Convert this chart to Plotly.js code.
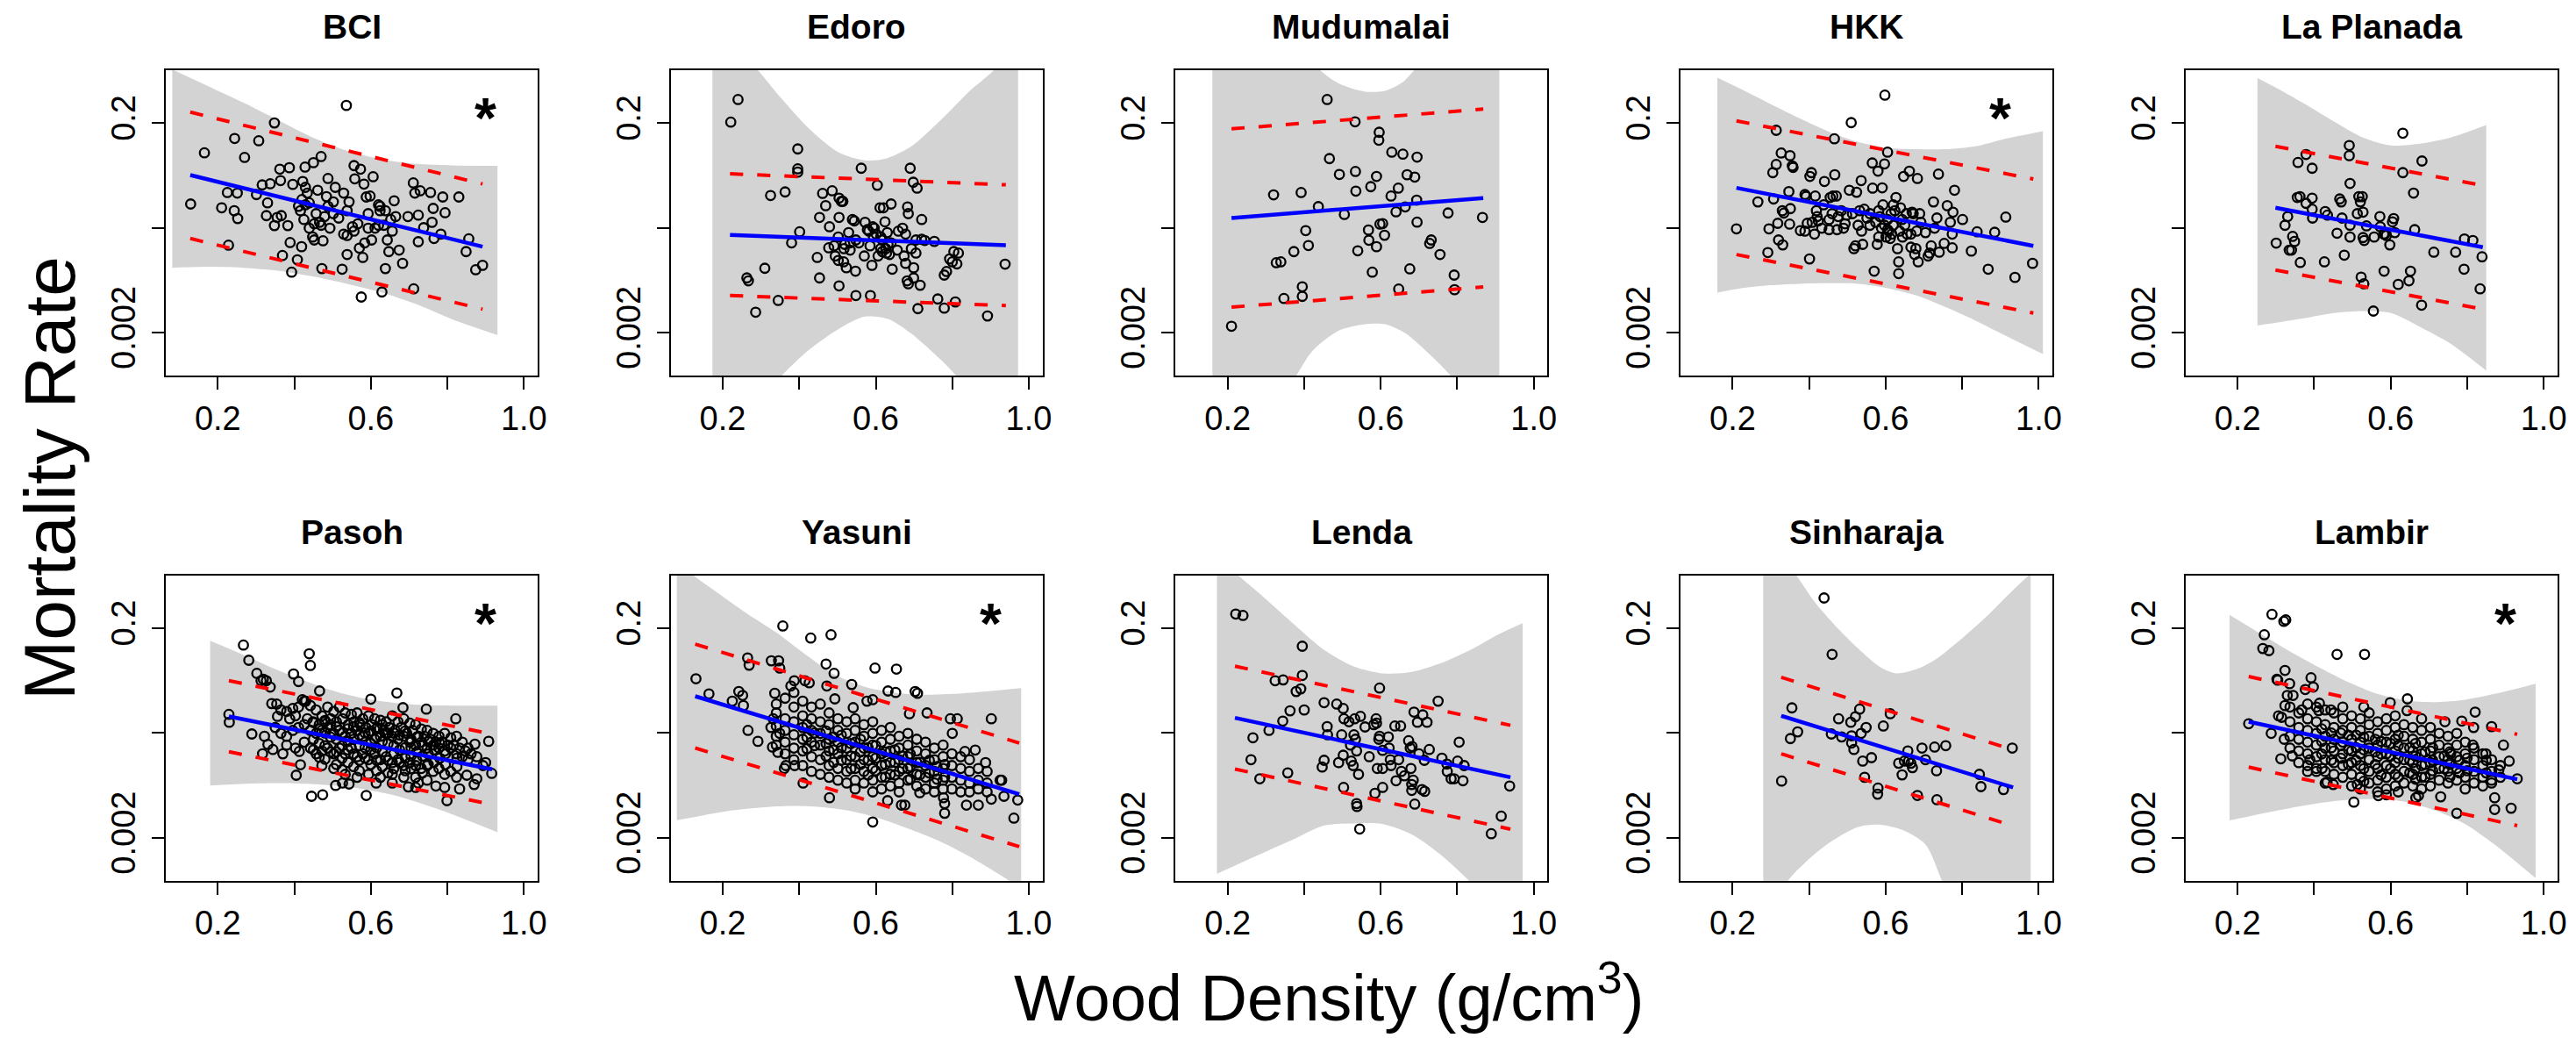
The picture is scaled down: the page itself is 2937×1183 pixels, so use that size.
<!DOCTYPE html>
<html><head><meta charset="utf-8">
<script src="https://cdn.plot.ly/plotly-3.0.1.min.js"></script>
<style>html,body{margin:0;padding:0;background:#fff}#chart{width:2937px;height:1183px}</style>
</head><body><div id="chart"></div>
<script>
// ---------- DATA: points are [wood density (g/cm3), log10(mortality rate)] ----------
const siteNames = ['BCI','Edoro','Mudumalai','HKK','La Planada','Pasoh','Yasuni','Lenda','Sinharaja','Lambir'];
const significant = [true,false,false,true,false,true,true,false,false,true];
const xTickVals = [0.2,0.6,1.0];
const xTickText = ['0.2','0.6','1.0'];
const xMinorVals = [0.4,0.8];
const yTickVals = [0.2,0.002];
const yTickText = ['0.2','0.002'];
const yMinorVals = [0.02];

const bciPts = [[0.129,-1.472],[0.165,-0.984],[0.210,-1.508],[0.225,-1.363],[0.228,-1.865],[0.244,-0.847],[0.243,-1.536],[0.251,-1.368],[0.252,-1.611],[0.270,-1.028],[0.307,-0.869],[0.301,-1.382],[0.316,-1.290],[0.327,-1.583],[0.330,-1.461],[0.337,-1.279],[0.348,-0.699],[0.348,-1.678],[0.355,-1.600],[0.362,-1.140],[0.364,-1.249],[0.366,-1.583],[0.369,-1.963],[0.383,-1.678],[0.387,-1.126],[0.389,-1.840],[0.393,-2.122],[0.396,-1.285],[0.408,-2.004],[0.420,-1.430],[0.422,-1.257],[0.419,-1.879],[0.428,-1.120],[0.429,-1.313],[0.434,-1.368],[0.416,-1.536],[0.425,-1.620],[0.439,-1.461],[0.439,-1.703],[0.450,-1.078],[0.452,-1.815],[0.457,-1.564],[0.461,-1.341],[0.466,-1.647],[0.470,-1.020],[0.472,-2.088],[0.475,-1.823],[0.488,-1.229],[0.484,-1.402],[0.479,-1.592],[0.493,-1.703],[0.502,-1.452],[0.507,-1.313],[0.516,-1.606],[0.525,-2.094],[0.529,-1.368],[0.536,-0.532],[0.538,-1.954],[0.538,-1.773],[0.543,-1.452],[0.556,-1.106],[0.558,-1.232],[0.566,-1.661],[0.570,-1.893],[0.573,-1.140],[0.575,-2.359],[0.579,-1.982],[0.582,-1.282],[0.584,-1.843],[0.588,-1.405],[0.593,-1.564],[0.598,-1.396],[0.606,-1.212],[0.602,-1.815],[0.611,-1.703],[0.620,-1.480],[0.624,-1.536],[0.629,-2.311],[0.634,-1.675],[0.638,-2.088],[0.643,-1.815],[0.647,-1.926],[0.652,-1.620],[0.661,-1.441],[0.665,-1.592],[0.674,-1.912],[0.683,-2.038],[0.697,-1.592],[0.711,-1.271],[0.712,-2.281],[0.715,-1.368],[0.724,-1.578],[0.724,-1.832],[0.729,-1.346],[0.738,-1.698],[0.756,-1.363],[0.760,-1.647],[0.763,-1.514],[0.765,-1.801],[0.783,-1.759],[0.788,-1.405],[0.794,-1.555],[0.830,-1.405],[0.856,-1.804],[0.849,-1.926],[0.874,-2.099],[0.892,-2.057],[0.429,-1.480],[0.411,-1.494],[0.452,-1.661],[0.470,-1.675],[0.488,-1.494],[0.538,-1.536],[0.552,-1.689],[0.556,-1.731],[0.593,-1.703],[0.624,-1.494],[0.656,-1.731],[0.638,-1.536],[0.529,-1.759],[0.448,-1.787],[0.502,-1.564],[0.620,-1.675]];

const edoroPts = [[0.221,-0.691],[0.240,-0.476],[0.263,-2.177],[0.267,-2.205],[0.286,-2.504],[0.310,-2.085],[0.325,-1.391],[0.345,-2.392],[0.363,-1.357],[0.380,-1.843],[0.396,-0.947],[0.396,-1.137],[0.396,-1.168],[0.401,-1.737],[0.447,-1.982],[0.453,-2.177],[0.453,-1.600],[0.461,-1.371],[0.469,-1.488],[0.479,-1.689],[0.477,-1.890],[0.486,-1.346],[0.491,-1.871],[0.494,-1.968],[0.504,-1.416],[0.504,-1.600],[0.504,-2.253],[0.510,-1.447],[0.514,-1.447],[0.502,-2.010],[0.516,-2.024],[0.519,-1.857],[0.523,-2.080],[0.529,-1.745],[0.533,-1.912],[0.539,-1.620],[0.544,-1.633],[0.547,-2.113],[0.548,-1.815],[0.548,-2.345],[0.562,-1.131],[0.570,-1.968],[0.572,-1.647],[0.582,-1.731],[0.585,-1.871],[0.586,-2.345],[0.590,-2.057],[0.592,-1.689],[0.596,-1.703],[0.601,-1.759],[0.604,-1.293],[0.606,-1.968],[0.611,-1.508],[0.613,-1.787],[0.617,-1.815],[0.620,-1.508],[0.624,-1.642],[0.626,-1.898],[0.628,-1.940],[0.630,-1.745],[0.632,-1.857],[0.636,-1.954],[0.640,-1.472],[0.643,-2.094],[0.656,-1.912],[0.659,-1.731],[0.670,-1.703],[0.674,-1.968],[0.678,-1.759],[0.678,-2.038],[0.682,-2.205],[0.683,-1.500],[0.685,-1.564],[0.685,-2.233],[0.690,-1.131],[0.693,-1.898],[0.698,-1.265],[0.699,-2.080],[0.699,-2.177],[0.705,-1.940],[0.708,-1.321],[0.710,-2.470],[0.716,-2.247],[0.720,-1.620],[0.720,-1.809],[0.728,-1.820],[0.753,-1.829],[0.762,-2.378],[0.779,-2.465],[0.779,-2.150],[0.785,-2.116],[0.793,-1.996],[0.800,-2.024],[0.804,-1.926],[0.808,-2.406],[0.812,-2.043],[0.816,-1.940],[0.892,-2.540],[0.938,-2.046],[0.578,-1.717],[0.594,-1.787],[0.617,-1.926],[0.640,-1.843],[0.556,-1.843],[0.533,-1.843],[0.502,-1.787],[0.517,-1.898],[0.613,-1.898],[0.705,-1.815]];

const mudumalaiPts = [[0.210,-2.638],[0.320,-1.385],[0.327,-2.032],[0.339,-2.024],[0.347,-2.373],[0.373,-1.926],[0.392,-1.363],[0.395,-2.261],[0.395,-2.353],[0.404,-1.726],[0.411,-1.868],[0.437,-1.497],[0.460,-0.476],[0.466,-1.039],[0.492,-1.190],[0.505,-1.572],[0.533,-0.688],[0.534,-1.162],[0.535,-1.349],[0.540,-1.918],[0.568,-1.720],[0.569,-1.818],[0.574,-1.307],[0.578,-2.122],[0.589,-1.209],[0.589,-1.879],[0.596,-0.788],[0.595,-0.864],[0.598,-1.664],[0.605,-1.659],[0.610,-1.770],[0.627,-1.396],[0.629,-0.978],[0.640,-1.547],[0.646,-1.321],[0.647,-2.283],[0.658,-0.997],[0.664,-1.500],[0.669,-1.193],[0.676,-2.091],[0.689,-1.215],[0.694,-1.435],[0.695,-1.645],[0.695,-1.025],[0.728,-1.848],[0.732,-1.815],[0.755,-1.954],[0.776,-1.558],[0.792,-2.150],[0.793,-2.289],[0.866,-1.600]];

const hkkPts = [[0.210,-1.709],[0.266,-1.452],[0.292,-1.935],[0.295,-1.709],[0.305,-1.173],[0.307,-1.424],[0.314,-1.095],[0.314,-0.769],[0.318,-1.656],[0.320,-1.815],[0.327,-0.986],[0.330,-1.536],[0.331,-1.862],[0.334,-1.558],[0.347,-1.354],[0.350,-1.011],[0.351,-1.516],[0.349,-1.664],[0.356,-1.109],[0.358,-1.123],[0.377,-1.726],[0.389,-1.731],[0.389,-1.382],[0.392,-1.399],[0.395,-1.656],[0.401,-1.996],[0.402,-1.209],[0.406,-1.173],[0.408,-1.647],[0.414,-1.759],[0.416,-1.396],[0.419,-1.536],[0.424,-1.633],[0.433,-1.703],[0.438,-1.480],[0.440,-1.257],[0.452,-1.717],[0.455,-1.410],[0.460,-1.564],[0.462,-1.396],[0.466,-0.850],[0.467,-1.193],[0.471,-1.396],[0.473,-1.717],[0.476,-1.592],[0.484,-1.536],[0.494,-1.661],[0.498,-1.578],[0.505,-1.341],[0.510,-0.696],[0.513,-1.564],[0.517,-1.898],[0.521,-1.871],[0.524,-1.360],[0.532,-1.536],[0.536,-1.249],[0.537,-1.731],[0.540,-1.857],[0.544,-1.522],[0.551,-1.606],[0.559,-1.564],[0.565,-1.081],[0.566,-1.321],[0.570,-2.113],[0.578,-1.857],[0.580,-1.159],[0.582,-1.536],[0.585,-1.592],[0.589,-1.703],[0.591,-1.318],[0.593,-1.480],[0.597,-1.090],[0.598,-0.434],[0.601,-1.787],[0.605,-0.978],[0.605,-1.620],[0.608,-1.731],[0.612,-1.801],[0.614,-1.564],[0.620,-1.480],[0.624,-1.536],[0.627,-1.410],[0.631,-1.898],[0.634,-2.024],[0.634,-2.136],[0.637,-1.731],[0.639,-1.508],[0.644,-1.787],[0.647,-1.209],[0.650,-1.675],[0.654,-1.564],[0.656,-1.759],[0.662,-1.159],[0.666,-1.884],[0.669,-1.550],[0.672,-1.564],[0.676,-1.954],[0.679,-1.898],[0.683,-1.229],[0.685,-2.024],[0.689,-1.564],[0.692,-1.647],[0.704,-1.745],[0.711,-1.968],[0.715,-1.940],[0.719,-1.871],[0.725,-1.452],[0.728,-1.703],[0.734,-1.606],[0.738,-1.187],[0.740,-1.932],[0.753,-1.848],[0.761,-1.488],[0.769,-1.647],[0.774,-1.759],[0.774,-1.890],[0.776,-1.550],[0.780,-1.341],[0.801,-1.620],[0.824,-1.921],[0.839,-1.737],[0.868,-2.094],[0.885,-1.742],[0.914,-1.597],[0.938,-2.172],[0.984,-2.038],[0.574,-1.647],[0.597,-1.675],[0.605,-1.717],[0.620,-1.675],[0.582,-1.787],[0.616,-1.759],[0.643,-1.620],[0.666,-1.759],[0.559,-1.675],[0.528,-1.675],[0.490,-1.703],[0.452,-1.620],[0.421,-1.592],[0.681,-1.731]];

const laPlanadaPts = [[0.301,-1.845],[0.324,-1.675],[0.331,-1.592],[0.335,-1.912],[0.341,-1.912],[0.344,-1.781],[0.349,-1.829],[0.356,-1.410],[0.358,-1.076],[0.363,-1.402],[0.364,-2.030],[0.379,-1.000],[0.379,-1.466],[0.395,-1.131],[0.395,-1.416],[0.395,-1.522],[0.396,-1.606],[0.427,-2.024],[0.429,-1.544],[0.435,-1.578],[0.460,-1.751],[0.467,-1.424],[0.471,-1.452],[0.473,-1.606],[0.479,-1.960],[0.492,-0.914],[0.492,-1.011],[0.494,-1.276],[0.494,-1.675],[0.494,-1.787],[0.513,-1.564],[0.517,-1.402],[0.521,-1.452],[0.523,-2.169],[0.526,-1.402],[0.528,-1.550],[0.528,-1.792],[0.530,-2.233],[0.531,-1.820],[0.537,-1.681],[0.555,-2.493],[0.557,-1.787],[0.572,-1.592],[0.573,-1.689],[0.582,-1.759],[0.583,-2.113],[0.585,-1.759],[0.589,-1.773],[0.598,-1.862],[0.605,-1.642],[0.608,-1.611],[0.611,-1.745],[0.620,-2.239],[0.632,-0.797],[0.632,-1.173],[0.648,-2.205],[0.652,-2.113],[0.660,-1.368],[0.663,-1.717],[0.681,-2.437],[0.682,-1.062],[0.713,-1.932],[0.770,-1.932],[0.792,-2.094],[0.793,-1.806],[0.815,-1.820],[0.834,-2.281],[0.839,-1.976]];

const pasohPts = [[0.229,-1.522],[0.230,-1.597],[0.267,-0.861],[0.281,-1.006],[0.289,-1.709],[0.302,-1.131],[0.313,-1.201],[0.319,-1.187],[0.327,-1.201],[0.337,-1.262],[0.341,-1.419],[0.354,-1.424],[0.356,-1.541],[0.317,-1.898],[0.322,-1.731],[0.331,-1.809],[0.344,-1.857],[0.370,-1.898],[0.398,-1.137],[0.411,-1.209],[0.405,-2.102],[0.416,-2.002],[0.413,-1.876],[0.439,-0.944],[0.442,-1.056],[0.421,-1.382],[0.430,-1.396],[0.466,-1.299],[0.445,-2.303],[0.474,-2.289],[0.508,-2.200],[0.526,-2.177],[0.543,-2.186],[0.588,-2.295],[0.600,-1.377],[0.668,-1.318],[0.684,-1.458],[0.745,-1.472],[0.822,-1.564],[0.872,-1.806],[0.908,-1.779],[0.893,-2.010],[0.916,-2.085],[0.799,-2.345],[0.851,-2.102],[0.877,-2.136],[0.870,-2.191],[0.832,-2.233],[0.770,-2.205],[0.793,-2.219],[0.698,-2.214],[0.717,-2.219],[0.724,-2.177],[0.656,-2.177],[0.614,-2.177],
[0.365,-1.480],[0.380,-1.494],[0.396,-1.466],[0.411,-1.452],[0.426,-1.396],[0.442,-1.438],[0.457,-1.480],[0.472,-1.536],[0.487,-1.452],[0.503,-1.494],[0.518,-1.452],[0.533,-1.508],[0.549,-1.522],[0.564,-1.508],[0.579,-1.564],[0.594,-1.536],[0.610,-1.564],[0.625,-1.578],[0.640,-1.592],[0.656,-1.536],[0.671,-1.592],[0.686,-1.564],[0.702,-1.606],[0.717,-1.620],[0.732,-1.661],[0.747,-1.675],[0.763,-1.703],[0.778,-1.731],[0.793,-1.703],[0.809,-1.745],[0.824,-1.731],[0.839,-1.787],[0.854,-1.843],
[0.350,-1.647],[0.365,-1.703],[0.380,-1.731],[0.396,-1.675],[0.411,-1.647],[0.426,-1.620],[0.442,-1.675],[0.457,-1.703],[0.472,-1.675],[0.487,-1.647],[0.503,-1.703],[0.518,-1.675],[0.533,-1.731],[0.549,-1.703],[0.564,-1.675],[0.579,-1.731],[0.594,-1.703],[0.610,-1.759],[0.625,-1.731],[0.640,-1.703],[0.656,-1.731],[0.671,-1.759],[0.686,-1.731],[0.702,-1.787],[0.717,-1.815],[0.732,-1.787],[0.747,-1.843],[0.763,-1.815],[0.778,-1.843],[0.793,-1.871],[0.809,-1.843],[0.824,-1.898],[0.839,-1.926],[0.854,-1.954],
[0.380,-1.815],[0.403,-1.843],[0.426,-1.787],[0.442,-1.843],[0.457,-1.898],[0.472,-1.871],[0.487,-1.843],[0.503,-1.898],[0.518,-1.843],[0.533,-1.898],[0.549,-1.843],[0.564,-1.926],[0.579,-1.898],[0.594,-1.954],[0.610,-1.898],[0.625,-1.954],[0.640,-1.926],[0.656,-1.982],[0.671,-1.954],[0.686,-2.010],[0.702,-1.982],[0.717,-2.010],[0.732,-2.038],[0.747,-2.010],[0.763,-2.066],[0.778,-2.038],[0.793,-2.094],[0.809,-2.066],[0.824,-2.122],
[0.472,-2.010],[0.503,-2.038],[0.533,-2.094],[0.564,-2.122],[0.594,-2.094],[0.625,-2.122],[0.656,-2.094],[0.686,-2.122],[0.717,-2.122],[0.747,-2.150],
[0.388,-1.564],[0.403,-1.536],[0.434,-1.564],[0.449,-1.592],[0.465,-1.620],[0.480,-1.592],[0.495,-1.564],[0.510,-1.592],[0.526,-1.564],[0.541,-1.620],[0.556,-1.592],[0.572,-1.620],[0.587,-1.647],[0.602,-1.620],[0.617,-1.647],[0.633,-1.675],[0.648,-1.647],[0.663,-1.675],[0.679,-1.647],[0.694,-1.703],[0.709,-1.675],[0.724,-1.731],[0.740,-1.731],[0.755,-1.759],[0.770,-1.787],[0.786,-1.787],[0.801,-1.815],[0.816,-1.815],[0.832,-1.843],[0.847,-1.871],[0.862,-1.898],[0.877,-1.926],[0.900,-1.982],
[0.45,-1.60],[0.45,-1.76],[0.45,-1.86],[0.48,-1.58],[0.48,-1.70],[0.48,-1.82],[0.48,-1.95],[0.51,-1.64],[0.51,-1.76],[0.51,-1.88],[0.51,-2.00],[0.54,-1.66],[0.54,-1.78],[0.54,-1.86],[0.54,-1.98],[0.57,-1.60],[0.57,-1.72],[0.57,-1.82],[0.57,-1.96],[0.57,-2.06],[0.60,-1.68],[0.60,-1.80],[0.60,-1.86],[0.60,-2.00],[0.63,-1.62],[0.63,-1.78],[0.63,-1.88],[0.63,-2.02],[0.66,-1.70],[0.66,-1.82],[0.66,-1.90],[0.66,-2.04],[0.69,-1.68],[0.69,-1.84],[0.69,-1.94],[0.69,-2.06],[0.72,-1.74],[0.72,-1.88],[0.72,-1.96],[0.75,-1.78],[0.75,-1.90],[0.75,-2.00],[0.78,-1.80],[0.78,-1.94],
[0.465,-1.66],[0.465,-1.80],[0.465,-1.93],[0.495,-1.62],[0.495,-1.74],[0.495,-1.88],[0.525,-1.70],[0.525,-1.82],[0.525,-1.94],[0.525,-2.05],[0.555,-1.64],[0.555,-1.76],[0.555,-1.90],[0.555,-2.02],[0.585,-1.70],[0.585,-1.84],[0.585,-1.94],[0.615,-1.66],[0.615,-1.74],[0.615,-1.84],[0.615,-1.96],[0.615,-2.06],[0.645,-1.70],[0.645,-1.80],[0.645,-1.96],[0.645,-2.08],[0.675,-1.72],[0.675,-1.86],[0.675,-1.98],[0.705,-1.76],[0.705,-1.84],[0.705,-1.92],[0.705,-2.04],[0.735,-1.82],[0.735,-1.92],[0.735,-2.08],[0.765,-1.86],[0.765,-1.98],[0.795,-1.90],[0.795,-2.00],[0.825,-1.94],[0.825,-2.02]];

const yasuniPts = [[0.130,-1.182],[0.164,-1.327],[0.225,-1.396],[0.242,-1.304],[0.252,-1.341],[0.254,-1.438],[0.265,-0.984],[0.269,-1.053],[0.266,-1.675],[0.292,-1.779],[0.327,-1.011],[0.336,-1.321],[0.346,-1.011],[0.349,-1.081],[0.357,-0.679],[0.430,-0.794],[0.483,-0.763],[0.470,-1.042],[0.491,-1.131],[0.472,-1.251],[0.493,-1.374],[0.537,-1.237],[0.541,-1.458],[0.577,-1.396],[0.592,-1.382],[0.598,-1.081],[0.654,-1.090],[0.632,-1.299],[0.652,-1.313],[0.703,-1.304],[0.709,-1.321],[0.734,-1.508],[0.688,-1.516],[0.795,-1.564],[0.813,-1.564],[0.800,-1.703],[0.902,-1.564],[0.860,-1.862],[0.833,-1.876],[0.887,-1.982],[0.925,-2.150],[0.929,-2.150],[0.971,-2.339],[0.961,-2.512],[0.935,-2.303],[0.902,-2.331],[0.868,-2.387],[0.837,-2.387],[0.780,-2.465],[0.780,-2.373],[0.777,-2.317],[0.631,-2.345],[0.667,-2.387],[0.676,-2.387],[0.715,-2.269],[0.592,-2.548],[0.479,-2.317],[0.410,-2.177],[0.361,-2.038],[0.365,-2.010],[0.388,-2.010],[0.344,-1.884],[0.330,-1.834],[0.326,-1.647],[0.349,-1.703],[0.332,-1.564],[0.378,-1.251],[0.387,-1.201],[0.415,-1.201],[0.426,-1.221],
[0.340,-1.424],[0.340,-1.508],[0.340,-1.633],[0.340,-1.731],[0.340,-1.815],
[0.363,-1.368],[0.363,-1.564],[0.363,-1.675],[0.363,-1.787],[0.363,-1.898],
[0.386,-1.313],[0.386,-1.452],[0.386,-1.592],[0.386,-1.717],[0.386,-1.843],[0.386,-1.954],
[0.409,-1.396],[0.409,-1.536],[0.409,-1.647],[0.409,-1.759],[0.409,-1.871],[0.409,-2.010],
[0.432,-1.452],[0.432,-1.564],[0.432,-1.675],[0.432,-1.787],[0.432,-1.926],[0.432,-2.066],
[0.455,-1.424],[0.455,-1.592],[0.455,-1.703],[0.455,-1.815],[0.455,-1.954],[0.455,-2.094],
[0.478,-1.508],[0.478,-1.620],[0.478,-1.759],[0.478,-1.871],[0.478,-2.010],[0.478,-2.122],
[0.501,-1.564],[0.501,-1.675],[0.501,-1.787],[0.501,-1.898],[0.501,-2.038],[0.501,-2.150],
[0.524,-1.592],[0.524,-1.703],[0.524,-1.843],[0.524,-1.954],[0.524,-2.066],[0.524,-2.177],
[0.546,-1.564],[0.546,-1.675],[0.546,-1.787],[0.546,-1.926],[0.546,-2.038],[0.546,-2.150],[0.546,-2.233],
[0.569,-1.620],[0.569,-1.731],[0.569,-1.843],[0.569,-1.954],[0.569,-2.066],[0.569,-2.177],
[0.592,-1.592],[0.592,-1.703],[0.592,-1.815],[0.592,-1.926],[0.592,-2.038],[0.592,-2.150],[0.592,-2.261],
[0.615,-1.675],[0.615,-1.787],[0.615,-1.898],[0.615,-2.010],[0.615,-2.122],[0.615,-2.233],
[0.638,-1.647],[0.638,-1.759],[0.638,-1.871],[0.638,-1.982],[0.638,-2.094],[0.638,-2.205],
[0.661,-1.731],[0.661,-1.843],[0.661,-1.954],[0.661,-2.066],[0.661,-2.177],[0.661,-2.261],
[0.684,-1.703],[0.684,-1.815],[0.684,-1.926],[0.684,-2.038],[0.684,-2.150],
[0.707,-1.759],[0.707,-1.871],[0.707,-1.982],[0.707,-2.094],[0.707,-2.205],
[0.730,-1.787],[0.730,-1.898],[0.730,-2.010],[0.730,-2.122],[0.730,-2.233],
[0.753,-1.843],[0.753,-1.954],[0.753,-2.066],[0.753,-2.177],[0.753,-2.261],
[0.776,-1.815],[0.776,-1.926],[0.776,-2.038],[0.776,-2.150],[0.776,-2.233],
[0.799,-1.898],[0.799,-2.010],[0.799,-2.122],[0.799,-2.233],
[0.822,-1.926],[0.822,-2.038],[0.822,-2.150],[0.822,-2.261],
[0.845,-1.954],[0.845,-2.066],[0.845,-2.177],[0.845,-2.261],
[0.868,-2.038],[0.868,-2.150],[0.868,-2.233],
[0.891,-2.066],[0.891,-2.177],[0.891,-2.261],
[0.42,-1.62],[0.42,-1.74],[0.42,-1.85],[0.47,-1.68],[0.47,-1.80],[0.47,-1.92],[0.51,-1.72],[0.51,-1.84],[0.51,-1.96],[0.56,-1.76],[0.56,-1.88],[0.56,-2.00],[0.60,-1.82],[0.60,-1.94],[0.60,-2.06],[0.65,-1.86],[0.65,-1.98],[0.65,-2.10],[0.69,-1.90],[0.69,-2.02],[0.69,-2.14],[0.74,-1.96],[0.74,-2.08],[0.78,-2.00],[0.78,-2.12],
[0.44,-1.70],[0.44,-1.82],[0.49,-1.74],[0.49,-1.86],[0.49,-1.98],[0.535,-1.80],[0.535,-1.92],[0.535,-2.04],[0.58,-1.84],[0.58,-1.96],[0.58,-2.10],[0.625,-1.88],[0.625,-2.00],[0.625,-2.12],[0.67,-1.92],[0.67,-2.04],[0.715,-1.98],[0.715,-2.10],[0.76,-2.02],[0.76,-2.14]];

const lendaPts = [[0.221,-0.565],[0.240,-0.579],[0.261,-1.954],[0.266,-1.745],[0.284,-2.136],[0.308,-1.675],[0.324,-1.201],[0.345,-1.193],[0.344,-1.586],[0.357,-2.080],[0.363,-1.488],[0.379,-1.304],[0.391,-1.279],[0.395,-0.872],[0.395,-1.151],[0.400,-1.480],[0.452,-1.410],[0.447,-2.024],[0.452,-1.960],[0.460,-1.639],[0.461,-1.717],[0.485,-1.424],[0.490,-1.982],[0.498,-1.717],[0.502,-1.466],[0.503,-2.219],[0.502,-1.912],[0.504,-1.564],[0.517,-1.592],[0.521,-1.815],[0.523,-1.968],[0.528,-2.010],[0.530,-1.717],[0.532,-1.564],[0.534,-1.759],[0.537,-1.871],[0.537,-2.373],[0.538,-2.401],[0.542,-2.094],[0.545,-2.615],[0.547,-1.541],[0.559,-1.642],[0.570,-1.926],[0.582,-1.620],[0.585,-2.275],[0.588,-1.564],[0.589,-1.606],[0.591,-2.038],[0.595,-1.759],[0.597,-1.271],[0.597,-1.731],[0.605,-2.038],[0.605,-2.219],[0.605,-1.865],[0.620,-1.737],[0.622,-1.843],[0.625,-1.954],[0.627,-2.010],[0.637,-1.633],[0.640,-2.155],[0.647,-1.954],[0.652,-1.633],[0.654,-2.066],[0.662,-2.108],[0.673,-1.773],[0.677,-1.843],[0.679,-2.038],[0.681,-2.191],[0.681,-2.247],[0.682,-1.829],[0.685,-2.150],[0.687,-1.500],[0.689,-2.378],[0.696,-1.597],[0.700,-1.898],[0.708,-2.239],[0.710,-1.527],[0.714,-1.960],[0.715,-2.256],[0.721,-1.597],[0.727,-1.857],[0.750,-1.396],[0.760,-1.940],[0.773,-1.996],[0.774,-2.066],[0.784,-2.136],[0.792,-2.136],[0.801,-1.968],[0.805,-1.787],[0.815,-2.155],[0.818,-2.010],[0.889,-2.660],[0.915,-2.493],[0.937,-2.205]];

const sinharajaPts = [[0.328,-2.158],[0.355,-1.460],[0.351,-1.753],[0.370,-1.689],[0.439,-0.412],[0.460,-0.950],[0.458,-1.709],[0.477,-1.564],[0.485,-1.737],[0.509,-1.597],[0.511,-1.726],[0.511,-1.795],[0.517,-1.857],[0.521,-1.544],[0.532,-1.472],[0.536,-1.703],[0.540,-1.968],[0.545,-2.122],[0.549,-1.647],[0.563,-1.935],[0.580,-2.225],[0.579,-2.283],[0.594,-1.633],[0.612,-1.516],[0.634,-1.988],[0.643,-2.099],[0.649,-1.968],[0.658,-1.871],[0.660,-1.968],[0.666,-1.988],[0.670,-2.030],[0.683,-2.295],[0.695,-1.843],[0.704,-1.954],[0.728,-1.834],[0.733,-2.060],[0.734,-2.336],[0.757,-1.820],[0.845,-2.094],[0.849,-2.211],[0.908,-2.239],[0.931,-1.843]];

const lambirPts = [[0.229,-1.611],[0.288,-1.703],[0.270,-0.763],[0.266,-0.894],[0.282,-0.914],[0.290,-0.568],[0.321,-0.635],[0.326,-0.621],[0.324,-1.103],[0.303,-1.187],[0.305,-1.196],[0.336,-1.229],[0.324,-1.438],[0.330,-1.341],[0.345,-1.341],[0.307,-1.536],[0.315,-1.550],[0.313,-1.946],[0.343,-1.918],[0.322,-1.759],[0.368,-1.480],[0.377,-1.285],[0.392,-1.173],[0.398,-1.262],[0.389,-1.954],[0.383,-2.066],[0.414,-1.416],[0.412,-1.486],[0.444,-1.480],[0.460,-0.950],[0.532,-0.950],[0.450,-2.191],[0.434,-2.169],[0.504,-2.359],[0.513,-2.191],[0.530,-1.452],[0.568,-2.297],[0.599,-1.410],[0.644,-1.374],[0.643,-1.486],[0.731,-2.308],[0.773,-2.465],[0.786,-1.586],[0.821,-1.500],[0.817,-1.647],[0.864,-1.639],[0.895,-1.815],[0.910,-1.968],[0.931,-2.136],[0.872,-2.317],[0.872,-2.429],[0.915,-2.417],[0.864,-2.177],[0.883,-2.052],[0.849,-1.898],[0.815,-1.815],[0.757,-1.898],[0.742,-1.592],[0.681,-1.564],[0.666,-2.317],[0.673,-2.297],[0.620,-2.261],[0.589,-2.289],[0.406,-2.066],[0.421,-2.038],
[0.337,-1.452],[0.337,-1.592],[0.337,-1.731],[0.337,-1.843],
[0.360,-1.508],[0.360,-1.647],[0.360,-1.759],[0.360,-1.871],[0.360,-1.982],
[0.383,-1.424],[0.383,-1.564],[0.383,-1.675],[0.383,-1.787],[0.383,-1.898],[0.383,-2.010],
[0.406,-1.452],[0.406,-1.592],[0.406,-1.703],[0.406,-1.815],[0.406,-1.926],[0.406,-2.038],
[0.429,-1.480],[0.429,-1.620],[0.429,-1.731],[0.429,-1.843],[0.429,-1.954],[0.429,-2.066],[0.429,-2.177],
[0.452,-1.508],[0.452,-1.647],[0.452,-1.759],[0.452,-1.871],[0.452,-1.982],[0.452,-2.094],
[0.475,-1.452],[0.475,-1.564],[0.475,-1.675],[0.475,-1.787],[0.475,-1.898],[0.475,-2.010],[0.475,-2.122],
[0.498,-1.536],[0.498,-1.647],[0.498,-1.759],[0.498,-1.871],[0.498,-1.982],[0.498,-2.094],[0.498,-2.205],
[0.521,-1.564],[0.521,-1.675],[0.521,-1.787],[0.521,-1.898],[0.521,-2.010],[0.521,-2.122],[0.521,-2.233],
[0.544,-1.508],[0.544,-1.620],[0.544,-1.731],[0.544,-1.843],[0.544,-1.954],[0.544,-2.066],[0.544,-2.177],
[0.566,-1.592],[0.566,-1.703],[0.566,-1.815],[0.566,-1.926],[0.566,-2.038],[0.566,-2.150],[0.566,-2.261],
[0.589,-1.564],[0.589,-1.675],[0.589,-1.787],[0.589,-1.898],[0.589,-2.010],[0.589,-2.122],[0.589,-2.233],
[0.612,-1.536],[0.612,-1.647],[0.612,-1.759],[0.612,-1.871],[0.612,-1.982],[0.612,-2.094],[0.612,-2.205],
[0.635,-1.620],[0.635,-1.731],[0.635,-1.843],[0.635,-1.954],[0.635,-2.066],[0.635,-2.177],
[0.658,-1.647],[0.658,-1.759],[0.658,-1.871],[0.658,-1.982],[0.658,-2.094],[0.658,-2.205],
[0.681,-1.675],[0.681,-1.787],[0.681,-1.898],[0.681,-2.010],[0.681,-2.122],[0.681,-2.233],
[0.704,-1.647],[0.704,-1.759],[0.704,-1.871],[0.704,-1.982],[0.704,-2.094],[0.704,-2.205],
[0.727,-1.703],[0.727,-1.815],[0.727,-1.926],[0.727,-2.038],[0.727,-2.150],
[0.750,-1.731],[0.750,-1.843],[0.750,-1.954],[0.750,-2.066],[0.750,-2.177],
[0.773,-1.703],[0.773,-1.815],[0.773,-1.926],[0.773,-2.038],[0.773,-2.150],
[0.795,-1.787],[0.795,-1.898],[0.795,-2.010],[0.795,-2.122],[0.795,-2.233],
[0.818,-1.843],[0.818,-1.954],[0.818,-2.066],[0.818,-2.177],
[0.841,-1.898],[0.841,-2.010],[0.841,-2.122],[0.841,-2.205],
[0.864,-1.954],[0.864,-2.066],[0.864,-2.150],
[0.887,-2.010],[0.887,-2.122],
[0.42,-1.66],[0.42,-1.78],[0.42,-1.90],[0.47,-1.70],[0.47,-1.82],[0.47,-1.94],[0.51,-1.72],[0.51,-1.84],[0.51,-1.96],[0.56,-1.76],[0.56,-1.88],[0.56,-2.00],[0.60,-1.80],[0.60,-1.92],[0.60,-2.04],[0.65,-1.84],[0.65,-1.96],[0.65,-2.08],[0.69,-1.88],[0.69,-2.00],[0.69,-2.12],[0.74,-1.92],[0.74,-2.04],[0.78,-1.96],[0.78,-2.08],
[0.445,-1.70],[0.445,-1.84],[0.445,-1.96],[0.49,-1.72],[0.49,-1.86],[0.49,-2.00],[0.53,-1.74],[0.53,-1.86],[0.53,-2.04],[0.53,-2.16],[0.575,-1.78],[0.575,-1.90],[0.575,-2.10],[0.62,-1.72],[0.62,-1.82],[0.62,-1.94],[0.62,-2.12],[0.665,-1.80],[0.665,-1.92],[0.665,-2.04],[0.665,-2.14],[0.71,-1.84],[0.71,-1.96],[0.71,-2.06],[0.755,-1.88],[0.755,-2.00],[0.755,-2.12],[0.80,-1.94],[0.80,-2.06],[0.85,-1.96],[0.85,-2.08]];

// fitted line (blue) and prediction limits (red dashed): [start, end] in log10 mortality
const fitX   = [[0.128,0.892],[0.219,0.940],[0.210,0.868],[0.210,0.986],[0.299,0.841],[0.229,0.917],[0.128,0.975],[0.219,0.939],[0.327,0.933],[0.229,0.931]];
const fitMid = [[-1.196,-1.879],[-1.767,-1.865],[-1.606,-1.416],[-1.318,-1.871],[-1.508,-1.884],[-1.541,-2.046],[-1.349,-2.283],[-1.555,-2.122],[-1.536,-2.219],[-1.592,-2.141]];
const fitUpr = [[-0.596,-1.281],[-1.184,-1.289],[-0.755,-0.567],[-0.679,-1.234],[-0.922,-1.295],[-1.201,-1.711],[-0.852,-1.795],[-1.062,-1.626],[-1.168,-1.860],[-1.161,-1.712]];
const fitLwr = [[-1.801,-2.475],[-2.345,-2.441],[-2.456,-2.263],[-1.954,-2.512],[-2.102,-2.475],[-1.879,-2.381],[-1.843,-2.783],[-2.043,-2.617],[-1.898,-2.585],[-2.025,-2.583]];

// grey band edges (log10 mortality)
const bandHiX = [
 [0.081,0.176,0.266,0.357,0.448,0.538,0.629,0.720,0.810,0.931],
 [0.173,0.285,0.349,0.426,0.502,0.571,0.624,0.693,0.770,0.846,0.915,0.972],
 [0.160,0.400,0.437,0.490,0.559,0.612,0.658,0.692,0.750,0.910],
 [0.160,0.223,0.299,0.376,0.452,0.528,0.605,0.681,0.757,0.834,0.910,1.011],
 [0.252,0.315,0.376,0.452,0.528,0.601,0.681,0.757,0.850],
 [0.180,0.273,0.350,0.426,0.503,0.579,0.656,0.732,0.809,0.931],
 [0.080,0.118,0.187,0.263,0.340,0.416,0.493,0.569,0.646,0.722,0.799,0.875,0.980],
 [0.172,0.223,0.299,0.376,0.452,0.528,0.605,0.681,0.757,0.834,0.910,0.971],
 [0.280,0.330,0.364,0.414,0.467,0.528,0.582,0.627,0.681,0.727,0.795,0.872,0.933,0.979],
 [0.179,0.261,0.337,0.414,0.490,0.566,0.643,0.719,0.795,0.872,0.979]];
const bandHi = [
 [-0.19,-0.350,-0.504,-0.671,-0.838,-0.964,-1.048,-1.090,-1.103,-1.109],
 [0.20,-0.17,-0.448,-0.755,-0.978,-1.056,-1.042,-0.922,-0.671,-0.392,-0.17,0.20],
 [0.40,0.0,-0.18,-0.322,-0.400,-0.392,-0.308,-0.18,0.0,0.40],
 [-0.267,-0.378,-0.518,-0.657,-0.783,-0.880,-0.936,-0.950,-0.950,-0.922,-0.852,-0.777],
 [-0.272,-0.392,-0.518,-0.685,-0.838,-0.914,-0.894,-0.838,-0.719],
 [-0.819,-0.964,-1.090,-1.201,-1.299,-1.368,-1.410,-1.433,-1.438,-1.438],
 [-0.05,-0.18,-0.364,-0.560,-0.741,-0.950,-1.145,-1.257,-1.313,-1.335,-1.327,-1.307,-1.271],
 [0.0,-0.18,-0.420,-0.671,-0.908,-1.062,-1.131,-1.117,-1.034,-0.908,-0.755,-0.652],
 [0.30,0.0,-0.18,-0.448,-0.671,-0.894,-1.062,-1.131,-1.090,-1.006,-0.811,-0.560,-0.336,-0.18],
 [-0.573,-0.755,-0.922,-1.076,-1.215,-1.327,-1.391,-1.405,-1.382,-1.327,-1.229]];
const bandLoX = [
 [0.081,0.176,0.266,0.357,0.448,0.538,0.629,0.720,0.810,0.931],
 [0.173,0.270,0.349,0.426,0.502,0.571,0.632,0.693,0.770,0.815,0.900,0.972],
 [0.160,0.330,0.376,0.421,0.490,0.559,0.612,0.666,0.727,0.788,0.840,0.910],
 [0.160,0.223,0.299,0.376,0.452,0.528,0.605,0.681,0.757,0.834,0.910,1.011],
 [0.252,0.315,0.376,0.452,0.528,0.601,0.681,0.757,0.850],
 [0.180,0.273,0.350,0.426,0.503,0.579,0.656,0.732,0.809,0.931],
 [0.080,0.149,0.225,0.302,0.378,0.455,0.531,0.608,0.684,0.761,0.837,0.914,0.952,0.980],
 [0.172,0.223,0.299,0.376,0.452,0.528,0.605,0.681,0.757,0.834,0.900,0.971],
 [0.280,0.320,0.341,0.391,0.452,0.528,0.582,0.643,0.704,0.750,0.800,0.979],
 [0.179,0.261,0.337,0.414,0.490,0.566,0.643,0.719,0.795,0.872,0.979]];
const bandLo = [
 [-2.080,-2.071,-2.080,-2.108,-2.163,-2.233,-2.317,-2.429,-2.568,-2.722],
 [-3.8,-3.5,-3.13,-2.861,-2.666,-2.546,-2.568,-2.708,-2.958,-3.13,-3.5,-3.8],
 [-3.8,-3.4,-3.13,-2.875,-2.680,-2.618,-2.618,-2.708,-2.903,-3.13,-3.4,-3.8],
 [-2.317,-2.275,-2.247,-2.233,-2.228,-2.233,-2.275,-2.345,-2.456,-2.582,-2.721,-2.903],
 [-2.632,-2.596,-2.560,-2.512,-2.493,-2.512,-2.652,-2.805,-3.062],
 [-2.200,-2.183,-2.177,-2.183,-2.200,-2.233,-2.289,-2.373,-2.470,-2.646],
 [-2.532,-2.484,-2.437,-2.409,-2.395,-2.406,-2.442,-2.512,-2.610,-2.721,-2.861,-3.028,-3.12,-3.25],
 [-3.042,-2.958,-2.833,-2.707,-2.582,-2.562,-2.568,-2.666,-2.861,-3.12,-3.4,-3.7],
 [-3.8,-3.4,-3.13,-2.930,-2.749,-2.596,-2.573,-2.624,-2.763,-3.13,-3.5,-4.2],
 [-2.534,-2.470,-2.415,-2.367,-2.336,-2.331,-2.359,-2.442,-2.568,-2.763,-3.084]];

const sitePts = [bciPts, edoroPts, mudumalaiPts, hkkPts, laPlanadaPts, pasohPts, yasuniPts, lendaPts, sinharajaPts, lambirPts];

// ---------- LAYOUT ----------
const W = 2937, H = 1183;
const colLeft = [189, 764.7, 1340.4, 1916.1, 2491.8], rowTop = [80, 655.7];
const boxW = 424, boxH = 348;
const FONT = 'Liberation Sans, Arial, Helvetica, sans-serif';
const p10 = v => Math.pow(10, v);

const traces = [];
const layout = {
  width: W, height: H, margin: {l:0, r:0, t:0, b:0},
  paper_bgcolor: 'white', plot_bgcolor: 'white', showlegend: false,
  font: {family: FONT, color: 'black'},
  annotations: []
};

siteNames.forEach((name, i) => {
  const s = i === 0 ? '' : String(i + 1);
  const xa = 'x' + s, ya = 'y' + s;
  const col = i % 5, row = Math.floor(i / 5);
  const L = colLeft[col], T = rowTop[row];
  const axCommon = {
    showline: true, linewidth: 2, linecolor: 'black', mirror: true,
    ticks: 'outside', ticklen: 14, tickwidth: 2, tickcolor: 'black',
    showgrid: false, zeroline: false, fixedrange: true,
    tickfont: {family: FONT, size: 38, color: 'black'}
  };
  const minorCommon = {tickmode: 'array', ticks: 'outside', ticklen: 14, tickwidth: 2, tickcolor: 'black', showgrid: false};
  layout['xaxis' + s] = Object.assign({}, axCommon, {
    domain: [L / W, (L + boxW) / W], anchor: ya,
    range: [0.064, 1.036], tickmode: 'array', tickvals: xTickVals, ticktext: xTickText,
    minor: Object.assign({tickvals: xMinorVals}, minorCommon)
  });
  layout['yaxis' + s] = Object.assign({}, axCommon, {
    domain: [1 - (T + boxH) / H, 1 - T / H], anchor: xa,
    type: 'log', range: [-3.108, -0.196], tickmode: 'array',
    tickvals: yTickVals, ticktext: yTickText, tickangle: -90, ticklabelstandoff: 4,
    minor: Object.assign({tickvals: yMinorVals}, minorCommon)
  });

  // grey band
  traces.push({x: bandLoX[i], y: bandLo[i].map(p10), xaxis: xa, yaxis: ya, type: 'scatter', mode: 'lines',
    line: {width: 0, shape: 'spline', smoothing: 0.8}, hoverinfo: 'skip'});
  traces.push({x: bandHiX[i], y: bandHi[i].map(p10), xaxis: xa, yaxis: ya, type: 'scatter', mode: 'lines',
    fill: 'tonexty', fillcolor: '#d3d3d3', line: {width: 0, shape: 'spline', smoothing: 0.8}, hoverinfo: 'skip'});
  // points
  const pts = sitePts[i];
  traces.push({x: pts.map(p => p[0]), y: pts.map(p => p10(p[1])), xaxis: xa, yaxis: ya, type: 'scatter', mode: 'markers',
    marker: {symbol: 'circle-open', size: 10.5, color: 'black', line: {width: 2.3, color: 'black'}}, cliponaxis: true});
  // prediction limits
  [fitUpr[i], fitLwr[i]].forEach(lim => {
    traces.push({x: fitX[i], y: lim.map(p10), xaxis: xa, yaxis: ya, type: 'scatter', mode: 'lines',
      line: {color: '#ff0000', width: 4, dash: '15px,16px'}, hoverinfo: 'skip'});
  });
  // fitted line
  traces.push({x: fitX[i], y: fitMid[i].map(p10), xaxis: xa, yaxis: ya, type: 'scatter', mode: 'lines',
    line: {color: '#0000ff', width: 4.5}, hoverinfo: 'skip'});

  // panel title
  layout.annotations.push({xref: 'paper', yref: 'paper', x: (L + boxW / 2) / W, y: 1 - (31 + row * 575.7) / H,
    xanchor: 'center', yanchor: 'middle', showarrow: false, text: '<b>' + name + '</b>',
    font: {family: FONT, size: 39, color: 'black'}});
  if (significant[i]) {
    layout.annotations.push({xref: xa, yref: ya, x: 0.9, y: -0.548, xanchor: 'center', yanchor: 'middle',
      showarrow: false, text: '<b>*</b>', yshift: -13, font: {family: FONT, size: 64, color: 'black'}});
  }
});

layout.annotations.push({xref: 'paper', yref: 'paper', x: 56 / W, y: 1 - 545 / H, xanchor: 'center', yanchor: 'middle',
  showarrow: false, textangle: -90, text: 'Mortality Rate', font: {family: FONT, size: 82, color: 'black'}});
layout.annotations.push({xref: 'paper', yref: 'paper', x: 1515 / W, y: 0.002, xanchor: 'center', yanchor: 'bottom',
  showarrow: false, text: 'Wood Density (g/cm<sup>3</sup>)', font: {family: FONT, size: 74, color: 'black'}});

Plotly.newPlot('chart', traces, layout, {displayModeBar: false, staticPlot: true});
</script></body></html>
